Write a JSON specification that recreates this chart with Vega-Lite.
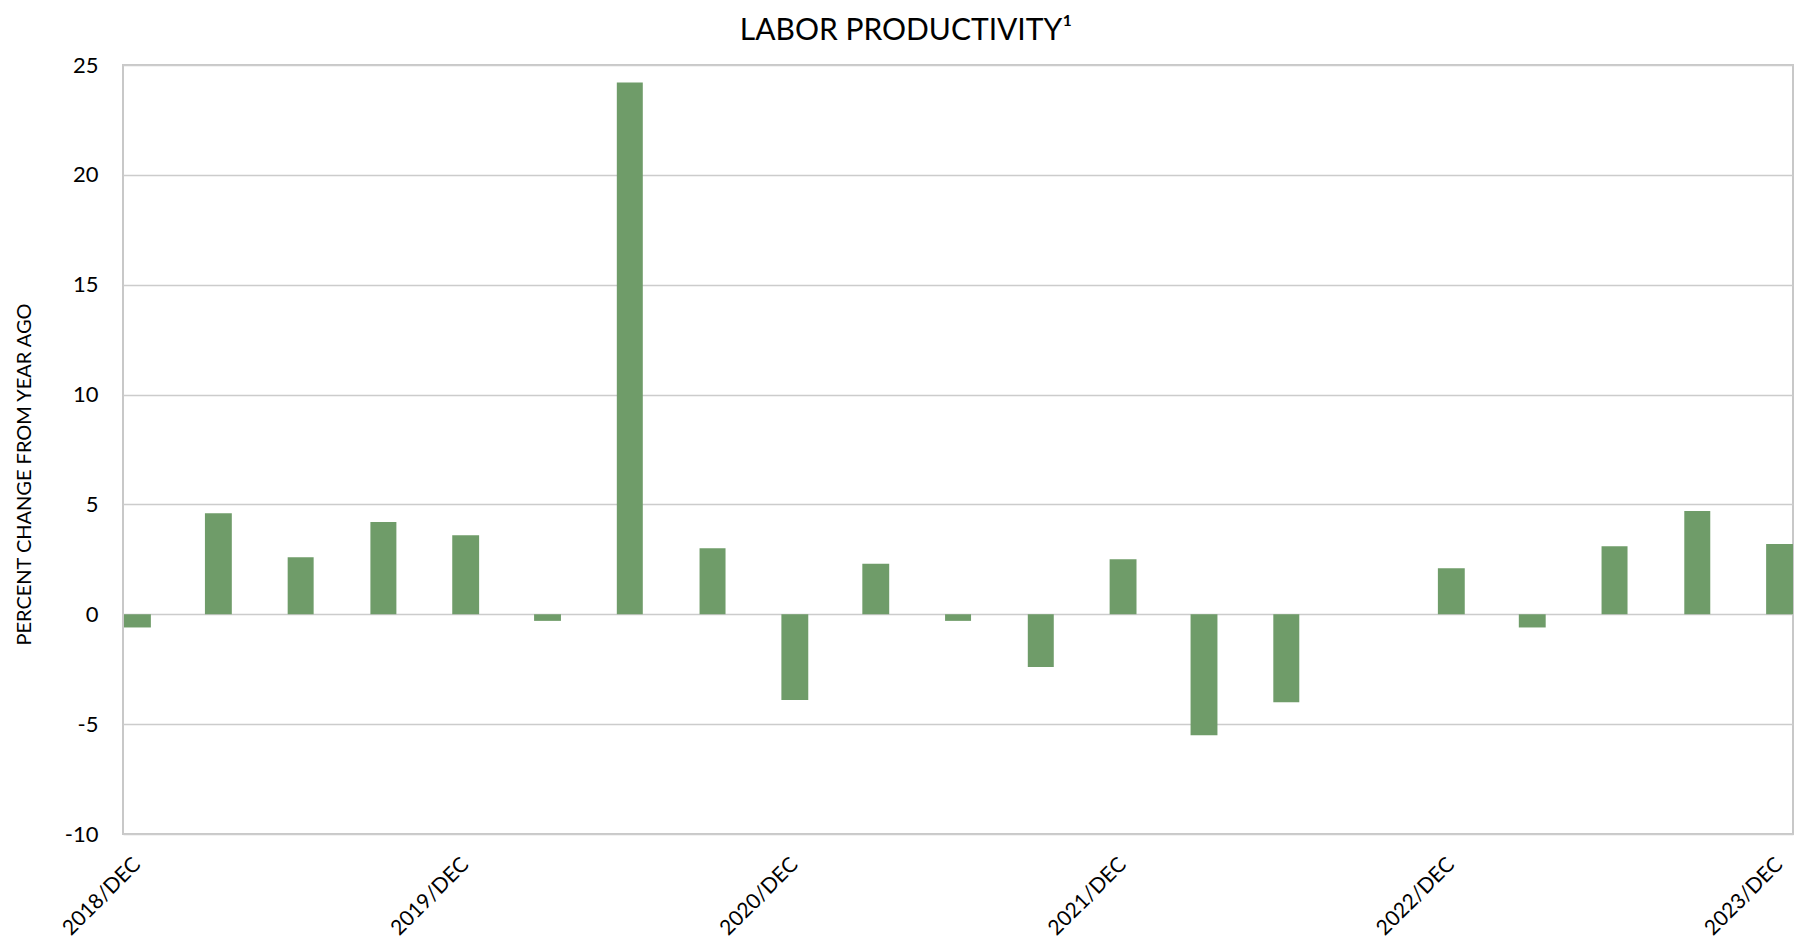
{
  "$schema": "https://vega.github.io/schema/vega-lite/v6.json",
  "autosize": {"type": "none"},
  "padding": {"left": 123, "top": 65, "right": 8, "bottom": 107},
  "width": 1670,
  "height": 769,
  "background": "white",
  "title": {
    "text": "LABOR PRODUCTIVITY¹",
    "font": "Lato",
    "fontSize": 30,
    "fontWeight": "normal",
    "color": "#000000",
    "anchor": "middle",
    "offset": 8,
    "dx": -52
  },
  "config": {
    "view": {"stroke": "#c8c8c8", "strokeWidth": 2},
    "font": "Lato"
  },
  "data": {
    "values": [
      {"date": "2018-12-01", "value": -0.6},
      {"date": "2019-03-01", "value": 4.6},
      {"date": "2019-06-01", "value": 2.6},
      {"date": "2019-09-01", "value": 4.2},
      {"date": "2019-12-01", "value": 3.6},
      {"date": "2020-03-01", "value": -0.3},
      {"date": "2020-06-01", "value": 24.2},
      {"date": "2020-09-01", "value": 3.0},
      {"date": "2020-12-01", "value": -3.9},
      {"date": "2021-03-01", "value": 2.3},
      {"date": "2021-06-01", "value": -0.3},
      {"date": "2021-09-01", "value": -2.4},
      {"date": "2021-12-01", "value": 2.5},
      {"date": "2022-03-01", "value": -5.5},
      {"date": "2022-06-01", "value": -4.0},
      {"date": "2022-09-01", "value": 0.0},
      {"date": "2022-12-01", "value": 2.1},
      {"date": "2023-03-01", "value": -0.6},
      {"date": "2023-06-01", "value": 3.1},
      {"date": "2023-09-01", "value": 4.7},
      {"date": "2023-12-01", "value": 3.2}
    ]
  },
  "mark": {"type": "bar", "color": "#6f9c69", "timeUnitBandSize": 1, "clip": true},
  "encoding": {
    "x": {
      "field": "date",
      "timeUnit": "utcyearmonth",
      "type": "temporal",
      "scale": {
        "type": "utc",
        "domain": [
          {"year": 2018, "month": 12, "date": 1, "utc": true},
          {"year": 2024, "month": 1, "date": 1, "utc": true}
        ],
        "nice": false
      },
      "axis": {
        "title": null,
        "values": [
          {"year": 2018, "month": 12, "date": 16, "hours": 12, "utc": true},
          {"year": 2019, "month": 12, "date": 16, "hours": 12, "utc": true},
          {"year": 2020, "month": 12, "date": 16, "hours": 12, "utc": true},
          {"year": 2021, "month": 12, "date": 16, "hours": 12, "utc": true},
          {"year": 2022, "month": 12, "date": 16, "hours": 12, "utc": true},
          {"year": 2023, "month": 12, "date": 16, "hours": 12, "utc": true}
        ],
        "labelExpr": "utcFormat(datum.value, '%Y') + '/DEC'",
        "labelAngle": -45,
        "labelAlign": "right",
        "labelBaseline": "middle",
        "labelPadding": 27,
        "labelFont": "Lato",
        "labelFontSize": 21,
        "labelColor": "#000000",
        "labelOverlap": false,
        "labelFlush": false,
        "labelBound": false,
        "ticks": false,
        "tickSize": 0,
        "domain": false,
        "grid": false
      }
    },
    "y": {
      "field": "value",
      "type": "quantitative",
      "scale": {"domain": [-10, 25], "nice": false, "zero": false},
      "axis": {
        "title": "PERCENT CHANGE FROM YEAR AGO",
        "titleFont": "Lato",
        "titleFontSize": 20,
        "titleFontWeight": "normal",
        "titleColor": "#000000",
        "titleAngle": 270,
        "titleAlign": "center",
        "titleBaseline": "alphabetic",
        "titleX": -93,
        "titleY": 409,
        "values": [-10, -5, 0, 5, 10, 15, 20, 25],
        "labelExpr": "'' + datum.value",
        "labelFont": "Lato",
        "labelFontSize": 22,
        "labelColor": "#000000",
        "labelPadding": 25,
        "ticks": false,
        "tickSize": 0,
        "domain": false,
        "grid": true,
        "gridColor": "#cccccc",
        "gridWidth": 1.5
      }
    }
  }
}
